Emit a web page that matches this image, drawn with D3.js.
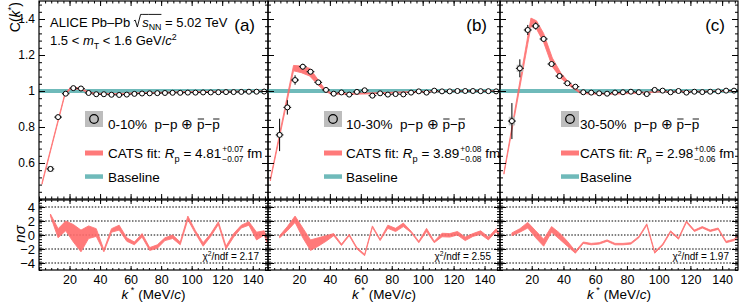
<!DOCTYPE html>
<html>
<head>
<meta charset="utf-8">
<script src="https://cdn.jsdelivr.net/npm/d3@7"></script>
<style>
  body { margin: 0; background: #fff; }
  svg { display: block; }
  text { font-family: "Liberation Sans", Arial, Helvetica, sans-serif; white-space: pre; fill: #000; }
</style>
</head>
<body>
<svg id="chart" width="753" height="304"></svg>
<script>
// bin centres in k* (MeV/c)
const kBins = [7.5, 12.5, 17.5, 22.5, 27.5, 32.5, 37.5, 42.5, 47.5, 52.5, 57.5, 62.5, 67.5, 72.5, 77.5,
               82.5, 87.5, 92.5, 97.5, 102.5, 107.5, 112.5, 117.5, 122.5, 127.5, 132.5, 137.5, 142.5, 147.5];
// n sigma has one more point just past the frame
const kSigma = [7.5, 12.5, 17.5, 22.5, 27.5, 32.5, 37.5, 42.5, 47.5, 52.5, 57.5, 62.5, 67.5, 72.5, 77.5,
                82.5, 87.5, 92.5, 97.5, 102.5, 107.5, 112.5, 117.5, 122.5, 127.5, 132.5, 137.5, 142.5, 147.5, 152.5];

// (a) 0-10%
const cA    = [0.567, 0.855, 0.985, 1.016, 1.014, 0.989, 0.982, 0.982, 0.979, 0.978, 0.980, 0.984, 0.986, 0.987, 0.988,
               0.989, 0.990, 0.990, 0.991, 0.991, 0.992, 0.992, 0.993, 0.994, 0.994, 0.995, 0.996, 0.996, 0.997];
const errA  = [0.012, 0.008, 0.005, 0.004, 0.004, 0.003, 0.003, 0.003, 0.003, 0.003, 0.003, 0.003, 0.003, 0.003, 0.003,
               0.003, 0.003, 0.003, 0.003, 0.003, 0.003, 0.003, 0.003, 0.003, 0.003, 0.003, 0.003, 0.003, 0.003];
const systA = [0.016, 0.009, 0.006, 0.005, 0.005, 0.004, 0.003, 0.003, 0.003, 0.003, 0.003, 0.003, 0.003, 0.003, 0.003,
               0.003, 0.003, 0.003, 0.003, 0.003, 0.003, 0.003, 0.003, 0.003, 0.003, 0.003, 0.003, 0.003, 0.003];
const fitKA  = [2, 17, 21, 27.5, 32.5, 37.5, 50, 65, 80, 100, 150];
const fitLoA = [0.482, 0.978, 1.012, 1.008, 0.988, 0.982, 0.981, 0.986, 0.989, 0.994, 0.998];
const fitHiA = [0.492, 0.988, 1.022, 1.017, 0.995, 0.987, 0.986, 0.990, 0.993, 0.997, 1.000];
const nsHiA = [3.0, 0.9, 2.0, 1.5, 0.7, 1.3, 0.9, -2.1, 0.9, 1.4, -0.4, -1.0, 0.2, -1.8, -1.4,
               -0.4, 0.0, -1.0, 2.7, 0.6, -1.1, 0.2, 1.9, -1.6, 0.2, 1.4, 1.9, 0.4, 0.6, -2.5];
const nsLoA = [2.7, -0.4, 0.6, -1.0, -2.4, -0.5, -0.2, -2.4, 0.4, 0.7, -0.9, -1.4, -0.3, -2.2, -1.9,
               -0.8, -0.5, -1.4, 2.2, 0.2, -1.6, -0.2, 1.5, -2.0, -0.3, 1.0, 1.4, -0.7, 0.0, -2.9];

// (b) 10-30%
const cB    = [0.756, 0.909, 1.061, 1.135, 1.107, 1.048, 1.006, 0.985, 0.992, 0.980, 0.995, 1.004, 0.974, 0.987, 0.980,
               0.983, 0.981, 0.991, 0.998, 0.991, 1.002, 0.998, 0.998, 1.000, 1.000, 1.000, 0.999, 0.999, 0.998];
const errB  = [0.090, 0.040, 0.026, 0.016, 0.012, 0.010, 0.008, 0.006, 0.005, 0.005, 0.005, 0.005, 0.005, 0.005, 0.005,
               0.005, 0.005, 0.005, 0.005, 0.005, 0.005, 0.005, 0.005, 0.005, 0.005, 0.005, 0.005, 0.005, 0.005];
const systB = [0.014, 0.011, 0.009, 0.009, 0.008, 0.007, 0.005, 0.004, 0.003, 0.003, 0.003, 0.003, 0.003, 0.003, 0.003,
               0.003, 0.003, 0.003, 0.003, 0.003, 0.003, 0.003, 0.003, 0.003, 0.003, 0.003, 0.003, 0.003, 0.003];
const fitKB  = [1.5, 16.5, 21.5, 27, 32.5, 36.5, 41, 55, 70, 90, 110, 150];
const fitLoB = [0.500, 1.112, 1.102, 1.083, 1.032, 1.000, 0.982, 0.982, 0.985, 0.992, 0.996, 0.999];
const fitHiB = [0.510, 1.142, 1.139, 1.126, 1.061, 1.014, 0.990, 0.987, 0.990, 0.996, 0.999, 1.001];
const nsHiB = [-0.1, 1.2, 2.7, 1.0, -0.7, -0.4, -0.1, 0.2, -1.3, 0.1, -1.8, -2.75, 1.3, -0.6, 1.4,
               0.95, 1.7, 0.55, -0.9, 0.95, -0.9, 0.25, 0.2, 0.5, -0.3, 0.2, 0.6, -0.3, 0.9, -0.9];
const nsLoB = [-0.4, 0.6, 1.8, -0.4, -2.2, -1.6, -0.9, -0.1, -1.5, -0.1, -2.0, -2.95, 1.1, -0.8, 0.95,
               0.5, 1.2, 0.35, -1.1, 0.5, -1.1, -0.25, -0.3, 0.0, -0.8, -0.2, 0.1, -0.7, 0.5, -1.1];

// (c) 30-50%
const cC    = [0.833, 1.126, 1.339, 1.361, 1.289, 1.150, 1.083, 1.043, 1.024, 0.993, 0.991, 0.987, 0.985, 0.991, 0.993,
               0.996, 0.993, 0.983, 1.006, 1.002, 0.993, 1.000, 0.991, 0.996, 0.994, 0.996, 0.998, 1.002, 1.002];
const errC  = [0.100, 0.050, 0.028, 0.020, 0.014, 0.010, 0.008, 0.007, 0.006, 0.005, 0.005, 0.005, 0.005, 0.005, 0.005,
               0.005, 0.005, 0.005, 0.005, 0.005, 0.005, 0.005, 0.005, 0.005, 0.005, 0.005, 0.005, 0.005, 0.005];
const systC = [0.024, 0.020, 0.013, 0.013, 0.011, 0.009, 0.007, 0.005, 0.004, 0.003, 0.003, 0.003, 0.003, 0.003, 0.003,
               0.003, 0.003, 0.003, 0.003, 0.003, 0.003, 0.003, 0.003, 0.003, 0.003, 0.003, 0.003, 0.003, 0.003];
const fitKC  = [2.5, 19.5, 23, 27.5, 33, 38.5, 44, 50, 56, 70, 85, 100, 150];
const fitLoC = [0.538, 1.358, 1.345, 1.270, 1.135, 1.070, 1.028, 0.990, 0.983, 0.982, 0.987, 0.994, 0.999];
const fitHiC = [0.548, 1.405, 1.390, 1.320, 1.183, 1.098, 1.043, 1.000, 0.988, 0.987, 0.991, 0.997, 1.001];
const nsHiC = [0.3, 0.9, 1.8, 0.6, -0.6, 1.2, 0.3, -0.9, -2.3, -1.0, -1.2, -1.1, -0.7, -1.2, -1.2,
               -1.1, -0.2, 1.6, -2.4, -1.3, 0.6, -0.4, 2.0, 0.7, 1.2, 0.7, 1.0, -0.9, -0.6, 0.4];
const nsLoC = [-0.1, 0.4, 1.0, -0.4, -1.6, 0.4, -0.6, -1.6, -2.6, -1.2, -1.4, -1.3, -0.9, -1.4, -1.4,
               -1.3, -0.4, 1.4, -2.6, -1.5, 0.4, -0.6, 1.8, 0.5, 1.0, 0.5, 0.8, -1.1, -0.8, 0.2];

const centralities = ["0-10%", "10-30%", "30-50%"];
const radii = ["4.81", "3.89", "2.98"];
const radErrUp = ["+0.07", "+0.08", "+0.06"];
const radErrDn = ["\u22120.07", "\u22120.08", "\u22120.06"];
const chi2ndf = ["2.17", "2.55", "1.97"];
const panelTags = ["(a)", "(b)", "(c)"];
const xTicks = [20, 40, 60, 80, 100, 120, 140];
const yTicksTop = [0.6, 0.8, 1, 1.2, 1.4];
const yTicksBot = [-4, -2, 0, 2, 4];

const RED = "#ff6b6b", TEAL = "#6fbaba", GREY = "#bdbdbd";
const TOP = 1, MID = 199, BOT0 = 200, BOT = 270;

const panels = [
  { L: 39,  R: 268, c: cA, err: errA, syst: systA, fk: fitKA, flo: fitLoA, fhi: fitHiA, nhi: nsHiA, nlo: nsLoA, legBox: 85,  legText: 108 },
  { L: 268, R: 500, c: cB, err: errB, syst: systB, fk: fitKB, flo: fitLoB, fhi: fitHiB, nhi: nsHiB, nlo: nsLoB, legBox: 324, legText: 346 },
  { L: 500, R: 738, c: cC, err: errC, syst: systC, fk: fitKC, flo: fitLoC, fhi: fitHiC, nhi: nsHiC, nlo: nsLoC, legBox: 561, legText: 580 }
];

const svg = d3.select("#chart");
const yTop = d3.scaleLinear().domain([0.4, 1.5]).range([MID, TOP]);
const yBot = d3.scaleLinear().domain([-5, 5]).range([BOT, BOT0]);

// text made of pieces: italic, sub/sup, stacked errors, overlines, radical
function richText(g, x, y, parts, size, anchor) {
  const grp = g.append("g");
  let cx = 0;
  parts.forEach(p => {
    if (typeof p === "string") p = { t: p };
    if (p.rad) {
      grp.append("path")
        .attr("d", `M${cx},${-0.42 * size} L${cx + 0.1 * size},${-0.5 * size} L${cx + 0.27 * size},${0.04 * size} L${cx + 0.52 * size},${-0.93 * size} L${cx + 0.64 * size},${-0.93 * size}`)
        .attr("fill", "none").attr("stroke", "#000").attr("stroke-width", 0.9);
      cx += 0.64 * size;
      return;
    }
    if (p.stack) {
      const fs2 = size * 0.62;
      const a = grp.append("text").attr("x", cx + 1).attr("y", -size * 0.42).attr("font-size", fs2).text(p.stack[0]);
      const b = grp.append("text").attr("x", cx + 1).attr("y", size * 0.3).attr("font-size", fs2).text(p.stack[1]);
      cx += 1 + Math.max(a.node().getComputedTextLength(), b.node().getComputedTextLength());
      return;
    }
    let fs = size, dy = 0;
    if (p.sub) { fs = size * 0.68; dy = size * 0.28; }
    if (p.sup) { fs = size * 0.68; dy = -size * 0.42; }
    const t = grp.append("text").attr("x", cx).attr("y", dy).attr("font-size", fs)
      .style("font-style", p.i ? "italic" : null).text(p.t);
    const w = t.node().getComputedTextLength();
    if (p.over) {
      const inset = p.inset ? 0.8 : 0;
      grp.append("line").attr("x1", cx + inset).attr("x2", cx + w - inset * 0.5)
        .attr("y1", -size * p.over).attr("y2", -size * p.over)
        .attr("stroke", "#000").attr("stroke-width", 0.9);
    }
    cx += w;
  });
  let sx = x;
  if (anchor === "end") sx = x - cx;
  else if (anchor === "middle") sx = x - cx / 2;
  grp.attr("transform", `translate(${sx},${y})`);
  return grp;
}

function dropDomain(g) { g.select(".domain").remove(); g.selectAll("line").attr("stroke", "#000"); }

panels.forEach((p, pi) => {
  const x = d3.scaleLinear().domain([0, 150]).range([p.L, p.R]);
  const g = svg.append("g");

  const clipT = "clipT" + pi, clipB = "clipB" + pi;
  svg.append("clipPath").attr("id", clipT).append("rect")
    .attr("x", p.L).attr("y", TOP).attr("width", p.R - p.L).attr("height", MID - TOP);
  svg.append("clipPath").attr("id", clipB).append("rect")
    .attr("x", p.L).attr("y", BOT0).attr("width", p.R - p.L).attr("height", BOT - BOT0);

  // ---- top pad ----
  const gt = g.append("g").attr("clip-path", `url(#${clipT})`);

  // baseline
  gt.append("line")
    .attr("x1", x(0)).attr("x2", x(150)).attr("y1", yTop(1)).attr("y2", yTop(1))
    .attr("stroke", TEAL).attr("stroke-width", 4);

  // CATS fit band
  const fit = p.fk.map((k, i) => ({ k, lo: p.flo[i], hi: p.fhi[i] }));
  gt.append("path").datum(fit)
    .attr("d", d3.area().x(d => x(d.k)).y0(d => yTop(d.lo)).y1(d => yTop(d.hi)))
    .attr("fill", RED).attr("stroke", RED).attr("stroke-width", 0.9).attr("opacity", 0.9);

  const pts = kBins.map((k, i) => ({ k, c: p.c[i], e: p.err[i], s: p.syst[i] }));

  // systematic boxes
  gt.selectAll(".syst").data(pts).join("rect")
    .attr("x", d => x(d.k - 2)).attr("width", d => x(d.k + 2) - x(d.k - 2))
    .attr("y", d => yTop(d.c + d.s)).attr("height", d => yTop(d.c - d.s) - yTop(d.c + d.s))
    .attr("fill", GREY).attr("opacity", 0.9);

  // error bars
  gt.selectAll(".ex").data(pts).join("line")
    .attr("x1", d => x(d.k - 2.5)).attr("x2", d => x(d.k + 2.5))
    .attr("y1", d => yTop(d.c)).attr("y2", d => yTop(d.c))
    .attr("stroke", "#000").attr("stroke-width", 1);
  gt.selectAll(".ey").data(pts).join("line")
    .attr("x1", d => x(d.k)).attr("x2", d => x(d.k))
    .attr("y1", d => yTop(d.c - d.e)).attr("y2", d => yTop(d.c + d.e))
    .attr("stroke", "#000").attr("stroke-width", 1);

  // markers
  gt.selectAll(".pt").data(pts).join("circle")
    .attr("cx", d => x(d.k)).attr("cy", d => yTop(d.c)).attr("r", 2.5)
    .attr("fill", "#fff").attr("stroke", "#000").attr("stroke-width", 1);

  // ---- bottom pad ----
  const gb = g.append("g").attr("clip-path", `url(#${clipB})`);
  gb.selectAll(".grid").data(yTicksBot).join("line")
    .attr("x1", p.L).attr("x2", p.R).attr("y1", d => yBot(d)).attr("y2", d => yBot(d))
    .attr("stroke", "#000").attr("stroke-width", 1).attr("stroke-dasharray", "1.5,1.6");

  const ns = kSigma.map((k, i) => ({ k, lo: p.nlo[i], hi: p.nhi[i] }));
  gb.append("path").datum(ns)
    .attr("d", d3.area().x(d => x(d.k)).y0(d => yBot(d.lo)).y1(d => yBot(d.hi)))
    .attr("fill", RED).attr("stroke", RED).attr("stroke-width", 0.9).attr("opacity", 0.9);

  richText(g, p.R - 9, 260, [{ t: "\u03c7" }, { t: "2", sup: true }, { t: "/ndf = " + chi2ndf[pi] }], 10, "end");

  // ---- axes ----
  const xMinor = d3.range(0, 151, 4);
  const yMinorTop = d3.range(0.4, 1.5001, 0.04);
  const yMinorBot = d3.range(-5, 5.001, 0.4);

  [[MID, d3.axisBottom], [TOP, d3.axisTop]].forEach(([yy, ax]) => {
    g.append("g").attr("transform", `translate(0,${yy})`)
      .call(ax(x).tickValues(xTicks).tickSize(-5).tickFormat("")).call(dropDomain);
    g.append("g").attr("transform", `translate(0,${yy})`)
      .call(ax(x).tickValues(xMinor).tickSize(-2.5).tickFormat("")).call(dropDomain);
  });
  g.append("g").attr("transform", `translate(0,${BOT})`)
    .call(d3.axisBottom(x).tickValues(xTicks).tickSize(-4).tickPadding(4.8).tickFormat(d3.format("d")))
    .call(dropDomain)
    .selectAll("text").attr("font-size", 12.5).attr("font-family", null);
  g.append("g").attr("transform", `translate(0,${BOT})`)
    .call(d3.axisBottom(x).tickValues(xMinor).tickSize(-2).tickFormat("")).call(dropDomain);
  g.append("g").attr("transform", `translate(0,${BOT0})`)
    .call(d3.axisTop(x).tickValues(xTicks).tickSize(-4).tickFormat("")).call(dropDomain);
  g.append("g").attr("transform", `translate(0,${BOT0})`)
    .call(d3.axisTop(x).tickValues(xMinor).tickSize(-2).tickFormat("")).call(dropDomain);

  [[p.L, d3.axisLeft], [p.R, d3.axisRight]].forEach(([xx, ax], side) => {
    const showLab = pi === 0 && side === 0;
    const a1 = g.append("g").attr("transform", `translate(${xx},0)`)
      .call(ax(yTop).tickValues(yTicksTop).tickSize(-6).tickPadding(4)
        .tickFormat(showLab ? d3.format("") : "")).call(dropDomain);
    a1.selectAll("text").attr("font-size", 12).attr("font-family", null);
    g.append("g").attr("transform", `translate(${xx},0)`)
      .call(ax(yTop).tickValues(yMinorTop).tickSize(-3).tickFormat("")).call(dropDomain);
    const a2 = g.append("g").attr("transform", `translate(${xx},0)`)
      .call(ax(yBot).tickValues(yTicksBot).tickSize(-6).tickPadding(4)
        .tickFormat(showLab ? (d => d < 0 ? "\u2212" + Math.abs(d) : String(d)) : "")).call(dropDomain);
    a2.selectAll("text").attr("font-size", 13).attr("font-family", null);
    g.append("g").attr("transform", `translate(${xx},0)`)
      .call(ax(yBot).tickValues(yMinorBot).tickSize(-3).tickFormat("")).call(dropDomain);
  });

  // frames
  g.append("rect").attr("x", p.L).attr("y", TOP).attr("width", p.R - p.L).attr("height", MID - TOP)
    .attr("fill", "none").attr("stroke", "#000").attr("stroke-width", 1.2);
  g.append("rect").attr("x", p.L).attr("y", BOT0).attr("width", p.R - p.L).attr("height", BOT - BOT0)
    .attr("fill", "none").attr("stroke", "#000").attr("stroke-width", 1.2);

  // panel tag
  g.append("text").attr("x", p.R - 13).attr("y", 31).attr("text-anchor", "end")
    .attr("font-size", 17).text(panelTags[pi]);

  // legend
  const bx = p.legBox, tx = p.legText;
  g.append("rect").attr("x", bx).attr("y", 111).attr("width", 18).attr("height", 16).attr("fill", GREY);
  g.append("circle").attr("cx", bx + 9).attr("cy", 119).attr("r", 4.3)
    .attr("fill", "none").attr("stroke", "#000").attr("stroke-width", 1.2);
  richText(g, tx, 129, [
    centralities[pi] + "  p\u2212p \u2295 ",
    { t: "p", over: 0.74, inset: true }, "\u2212", { t: "p", over: 0.74, inset: true }
  ], 13.5);

  g.append("rect").attr("x", bx).attr("y", 150.5).attr("width", 18).attr("height", 5).attr("fill", RED).attr("opacity", 0.9);
  richText(g, tx, 158, [
    "CATS fit: ", { t: "R", i: true }, { t: "p", sub: true }, " = " + radii[pi],
    { stack: [radErrUp[pi], radErrDn[pi]] }, " fm"
  ], 13.5);

  g.append("rect").attr("x", bx).attr("y", 174.3).attr("width", 18).attr("height", 4.5).attr("fill", TEAL);
  g.append("text").attr("x", tx).attr("y", 181.5).attr("font-size", 13.5).text("Baseline");

  // x title
  richText(g, (p.L + p.R) / 2, 299, [{ t: "k", i: true }, { t: " *", sup: true }, " (MeV/", { t: "c", i: true }, ")"], 13.5, "middle");
});

// header (panel a)
richText(svg, 50, 26.5, ["ALICE Pb\u2013Pb ", { rad: true }, { t: "s", i: true, over: 0.93 }, { t: "NN", sub: true, over: 0.93 }, " = 5.02 TeV"], 13);
richText(svg, 50, 45, ["1.5 < ", { t: "m", i: true }, { t: "T", sub: true }, " < 1.6 GeV/", { t: "c", i: true }, { t: "2", sup: true }], 13);

// y titles
const yt1 = svg.append("g").attr("transform", "translate(20,2) rotate(-90)");
richText(yt1, 0, 0, ["C(", { t: "k", i: true }, { t: "*", sup: true }, ")"], 14, "end");
const yt2 = svg.append("g").attr("transform", "translate(25,234) rotate(-90)");
richText(yt2, 0, 0, [{ t: "n", i: true }, { t: "\u03c3", i: true }], 15, "middle");
</script>
</body>
</html>
